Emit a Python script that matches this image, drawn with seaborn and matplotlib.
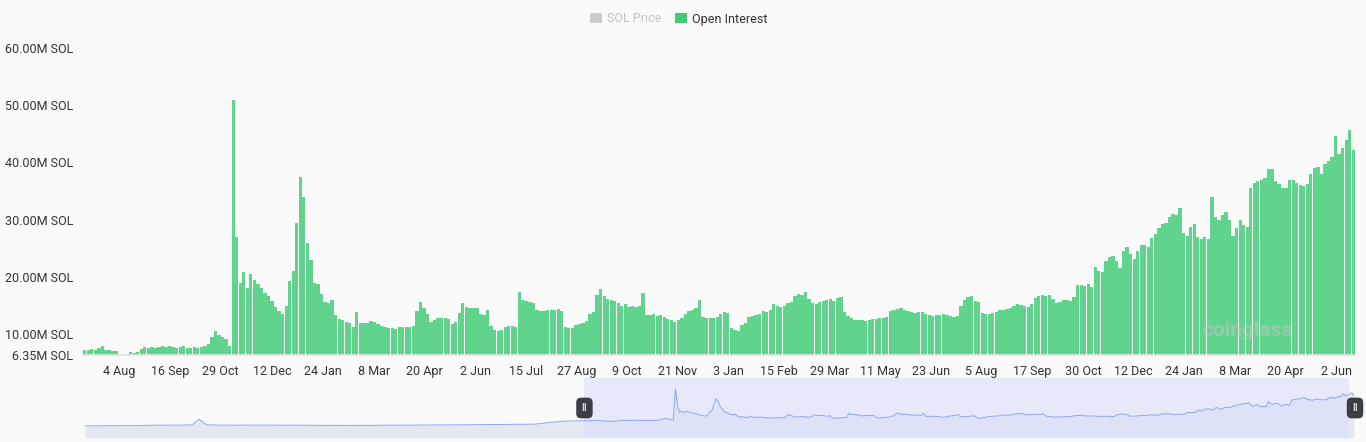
import numpy as np
import pandas as pd
import matplotlib
matplotlib.use("Agg")
import matplotlib.pyplot as plt
import matplotlib.dates as mdates
import matplotlib.transforms as mtransforms
from matplotlib.patches import Patch
import seaborn as sns

sns.set_theme(style="white")
plt.rcParams['font.family'] = ['Roboto', 'DejaVu Sans']

# ---------------- data ----------------
main_start = "2022-07-04"   # first bar of the zoomed window
bin_days = 3                # each bar = 3 days
# Open interest (M SOL)
oi_part1 = [
    7.3, 7.2, 7.4, 7.3, 7.5, 7.9, 7.3, 7.2, 7.1, 7.0,
    6.6, 6.5, 6.5, 6.8, 6.7, 6.9, 7.4, 7.8, 7.6, 7.7,
    7.6, 7.8, 7.9, 7.7, 8.0, 7.8, 7.6, 7.7, 7.9, 7.5,
    7.6, 7.7, 7.6, 7.8, 8.0, 8.3, 9.5, 10.6, 9.8, 9.5,
    9.2, 8.0, 50.9, 27.0, 19.0, 20.8, 18.0, 20.5, 19.5, 18.7,
    18.0, 17.2, 16.7, 15.8, 14.8, 14.0, 13.6, 15.0, 19.2, 21.0,
    29.4, 37.4, 34.0, 26.0, 23.0, 19.0, 18.7, 17.0, 15.6, 15.5,
    16.0, 13.4, 12.6, 12.5, 12.2, 11.9, 11.2, 13.9, 12.0, 11.9,
    12.0, 12.3, 12.2, 11.8, 11.5, 11.2, 11.0, 11.1, 10.9, 11.3,
]
oi_part2 = [
    11.3, 11.3, 11.3, 11.4, 14.0, 15.6, 14.5, 13.5, 12.2, 12.4,
    12.8, 12.9, 12.8, 12.6, 11.8, 12.2, 13.7, 15.4, 14.8, 14.6,
    14.6, 14.5, 13.6, 13.4, 14.2, 11.5, 10.8, 10.6, 10.7, 11.3,
    11.4, 11.5, 11.3, 17.4, 16.0, 15.8, 15.6, 15.4, 14.3, 14.0,
    14.0, 14.2, 14.3, 14.3, 14.4, 14.0, 11.3, 11.0, 11.0, 11.6,
    11.8, 12.0, 12.3, 13.5, 13.8, 16.8, 17.8, 16.6, 16.2, 16.0,
    15.8, 15.5, 15.0, 15.2, 14.8, 15.0, 14.8, 15.0, 17.2, 13.4,
    13.3, 13.5, 13.2, 13.3, 13.0, 12.6, 12.4, 12.2, 12.5, 12.8,
    13.5, 14.0, 14.3, 14.6, 16.0, 13.0, 12.8, 12.9, 12.9, 13.0,
]
oi_part3 = [
    13.6, 13.8, 13.7, 11.0, 10.7, 10.6, 11.6, 11.9, 13.0, 13.2,
    13.4, 13.6, 14.0, 13.8, 14.3, 15.2, 14.9, 14.8, 14.9, 15.4,
    15.6, 16.6, 17.0, 16.8, 17.3, 16.2, 15.4, 15.2, 15.6, 15.8,
    16.0, 16.2, 15.8, 16.3, 16.5, 13.8, 13.2, 12.8, 12.5, 12.4,
    12.4, 12.3, 12.5, 12.6, 12.7, 12.8, 12.9, 13.0, 14.0, 14.2,
    14.4, 14.6, 14.2, 14.0, 13.8, 13.7, 13.9, 13.8, 13.5, 13.4,
    13.2, 13.4, 13.3, 13.5, 13.4, 13.2, 13.0, 13.1, 15.0, 15.9,
    16.4, 16.6, 15.8, 15.6, 13.7, 13.6, 13.5, 13.7, 13.8, 14.3,
    14.2, 14.4, 14.6, 15.0, 15.2, 15.1, 15.0, 14.8, 15.2, 16.3,
]
oi_part4 = [
    16.6, 16.8, 16.6, 16.9, 16.2, 15.4, 15.6, 16.0, 15.9, 15.8,
    16.5, 18.6, 18.5, 18.4, 18.7, 18.3, 21.7, 21.0, 20.8, 22.8,
    23.4, 23.6, 22.8, 21.6, 24.5, 25.2, 24.0, 23.2, 24.5, 25.5,
    25.6, 25.2, 26.8, 27.5, 28.5, 29.2, 29.5, 30.5, 31.0, 30.8,
    32.0, 27.6, 27.2, 28.8, 29.2, 27.0, 26.6, 27.0, 26.6, 33.9,
    30.5, 30.0, 30.8, 31.3, 30.0, 27.2, 28.5, 30.0, 29.0, 28.8,
    35.5, 36.4, 36.8, 37.0, 37.2, 38.9, 38.9, 36.8, 36.3, 35.5,
    35.6, 37.0, 37.0, 36.4, 36.0, 35.8, 36.2, 38.0, 39.0, 39.2,
    38.0, 39.8, 40.2, 41.0, 44.6, 41.5, 42.5, 44.0, 45.7, 42.2,
]

# navigator: history before the zoomed window (M SOL, every 10 days)
nav_start = "2020-08-03"
nav_step_days = 10
nav_early = [
    0.2, 0.2, 0.3, 0.3, 0.4,
    0.5, 0.6, 0.5, 0.7,
    1.0, 1.2, 1.1, 1.3, 1.2, 1.4, 1.5,
    9.5,
    1.8, 1.4, 1.2, 1.3, 1.1, 1.2, 1.4, 1.3, 1.2, 1.3, 1.1, 1.0, 1.2, 1.1, 0.9,
    0.8, 0.7, 0.8, 0.9, 0.7, 0.8, 0.8, 0.9, 0.8, 1.0,
    1.1, 1.2, 1.1, 1.3, 1.2, 1.4, 1.3, 1.5, 1.4, 1.6, 1.7, 1.6, 1.8, 1.9, 2.0,
    2.1, 2.0, 2.2, 2.3, 2.4, 2.3, 2.6,
    3.5, 5.0, 5.6, 6.6, 6.9, 7.1,
]

tick_dates = ["2022-08-04", "2022-09-16", "2022-10-29", "2022-12-12", "2023-01-24",
              "2023-03-08", "2023-04-20", "2023-06-02", "2023-07-15", "2023-08-27",
              "2023-10-09", "2023-11-21", "2024-01-03", "2024-02-15", "2024-03-29",
              "2024-05-11", "2024-06-23", "2024-08-05", "2024-09-17", "2024-10-30",
              "2024-12-12", "2025-01-24", "2025-03-08", "2025-04-20", "2025-06-02"]
tick_labels = ["4 Aug", "16 Sep", "29 Oct", "12 Dec", "24 Jan", "8 Mar", "20 Apr",
               "2 Jun", "15 Jul", "27 Aug", "9 Oct", "21 Nov", "3 Jan", "15 Feb",
               "29 Mar", "11 May", "23 Jun", "5 Aug", "17 Sep", "30 Oct", "12 Dec",
               "24 Jan", "8 Mar", "20 Apr", "2 Jun"]
ytick_values = [6.35, 10, 20, 30, 40, 50, 60]
ytick_labels = ["6.35M SOL", "10.00M SOL", "20.00M SOL", "30.00M SOL",
                "40.00M SOL", "50.00M SOL", "60.00M SOL"]
legend_labels = ["SOL Price", "Open Interest"]

# ---------------- build ----------------
oi = np.array(oi_part1 + oi_part2 + oi_part3 + oi_part4)
bar_dates = pd.date_range(main_start, periods=len(oi), freq=f"{bin_days}D")
x0 = mdates.date2num(pd.Timestamp(main_start))
x_end = x0 + len(oi) * bin_days
centers = mdates.date2num(bar_dates) + bin_days / 2
df = pd.DataFrame({"x": centers, "oi": oi})

BG = "#fafafa"
BAR = "#60d48d"
W, H = 1366, 442

fig = plt.figure(figsize=(W / 100, H / 100), dpi=100, facecolor=BG)
ax = fig.add_axes([83 / W, (H - 355) / H, 1272 / W, 307 / H])
ax.set_facecolor(BG)
sns.barplot(data=df, x="x", y="oi", native_scale=True, color=BAR, saturation=1,
            width=0.93, errorbar=None, linewidth=0, ax=ax)
ax.set_xlim(x0, x_end)
ax.set_ylim(6.35, 60)
ax.set_xlabel("")
ax.set_ylabel("")
ax.set_xticks(mdates.date2num(pd.to_datetime(tick_dates)))
ax.set_xticklabels(tick_labels)
ax.set_yticks(ytick_values)
ax.set_yticklabels(ytick_labels)
ax.tick_params(axis="both", length=0, labelsize=9, colors="#333333")
ax.tick_params(axis="x", pad=7)
ax.tick_params(axis="y", pad=7)
for s in ["top", "right", "left"]:
    ax.spines[s].set_visible(False)
ax.spines["bottom"].set_color("#e4e4e4")
ax.grid(False)

# watermark
fig.text(1248 / W, 1 - 330 / H, "coinglass", ha="center", va="center",
         fontsize=15, fontweight="bold", color="#c4c4c4", alpha=0.55)

# legend
handles = [Patch(facecolor="#cccccc", edgecolor="none"),
           Patch(facecolor="#3ecf74", edgecolor="none")]
leg = fig.legend(handles, legend_labels, loc="center", bbox_to_anchor=(679 / W, 1 - 19 / H),
                 ncol=2, frameon=False, fontsize=9, handlelength=0.9, handleheight=0.9,
                 handletextpad=0.45, columnspacing=1.1)
leg.get_texts()[0].set_color("#c2c2c2")
leg.get_texts()[1].set_color("#333333")

# navigator
nav = fig.add_axes([85 / W, (H - 438) / H, 1270 / W, 60 / H])
nav.set_facecolor(BG)
nav_dates = pd.date_range(nav_start, periods=len(nav_early), freq=f"{nav_step_days}D")
nav_x = np.concatenate([mdates.date2num(nav_dates), centers])
nav_y = np.concatenate([np.array(nav_early), oi])
nav_x0 = mdates.date2num(pd.Timestamp(nav_start))
nav.fill_between(nav_x, -16.5, nav_y, color="#e5e8f1", lw=0)
nav.axvspan(x0, x_end - 8, color="#d9dffa", alpha=0.6, lw=0)
sns.lineplot(x=nav_x, y=nav_y, ax=nav, color="#8fa6ee", lw=0.7)
nav.set_xlim(nav_x0, x_end)
nav.set_ylim(-16.5, 66)
nav.set_xticks([])
nav.set_yticks([])
nav.set_xlabel("")
nav.set_ylabel("")
for s in nav.spines.values():
    s.set_visible(False)
tr = mtransforms.blended_transform_factory(nav.transData, nav.transAxes)
for hx in [x0, x_end]:
    nav.text(hx, 0.5, "II", transform=tr, ha="center", va="center", fontsize=7,
             color="#d8d8d8", fontweight="bold", clip_on=False,
             bbox=dict(boxstyle="round,pad=0.55,rounding_size=0.5", fc="#3b3e47", ec="none"))

fig.savefig("out.png", dpi=100, facecolor=BG)
